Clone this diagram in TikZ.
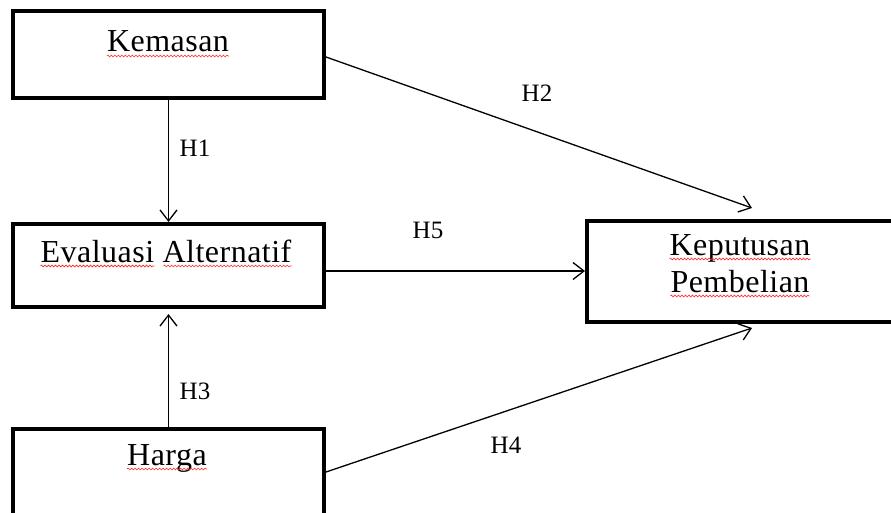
\documentclass[tikz,border=0pt]{standalone}
\usepackage{fontspec}
\setmainfont{Liberation Serif}[LetterSpace=1.5]
\usetikzlibrary{arrows.meta,decorations.pathmorphing,calc}
\begin{document}
\begin{tikzpicture}[x=1pt,y=-1pt,
  box/.style={draw,line width=4pt,inner sep=0pt,minimum width=311pt},
  lbl/.style={font=\fontsize{32}{38}\selectfont,inner sep=0pt,anchor=base},
  hyp/.style={font=\fontsize{25}{30}\selectfont,inner sep=0pt},
  conn/.style={line width=1.3pt,-{Straight Barb[length=11pt,width=17pt]}},
  spell/.style={red!85!white,line width=0.6pt,decorate,decoration={snake,amplitude=0.9pt,segment length=3.5pt}}]
\useasboundingbox (0,0) rectangle (891,513);
\clip (0,0) rectangle (891,513);
\fill[white] (0,0) rectangle (891,513);
% boxes
\node[box,minimum height=87pt] (kem) at (168.5,54.5) {};
\node[box,minimum height=83pt] (eva) at (168.5,265.5) {};
\node[box,minimum height=91pt] (har) at (168.5,474.5) {};
\node[box,minimum width=306pt,minimum height=101pt] (kep) at (740,271.5) {};
% texts
\node[lbl] (tkem) at (168,52) {Kemasan};
\node[lbl] (teva) at (166,262) {Evaluasi Alternatif};
\node[lbl] (thar) at (167,465) {Harga};
\node[lbl] (tkep1) at (740,255) {Keputusan};
\node[lbl] (tkep2) at (740,292) {Pembelian};
% spell-check underlines
\draw[spell] ([yshift=-4pt]tkem.base west) -- ([yshift=-4pt]tkem.base east);
\draw[spell] ($([yshift=-4pt]teva.base west)$) -- ($([yshift=-4pt]teva.base west)!0.454!([yshift=-4pt]teva.base east)$);
\draw[spell] ($([yshift=-4pt]teva.base west)!0.49!([yshift=-4pt]teva.base east)$) -- ([yshift=-4pt]teva.base east);
\draw[spell] ([yshift=-4pt]thar.base west) -- ([yshift=-4pt]thar.base east);
\draw[spell] ([yshift=-4pt]tkep1.base west) -- ([yshift=-4pt]tkep1.base east);
\draw[spell] ([yshift=-4pt]tkep2.base west) -- ([yshift=-4pt]tkep2.base east);
% connectors
\coordinate (h2s) at ([yshift=-2.5pt]kem.east);
\coordinate (h2e) at (752,208);
\coordinate (h5s) at ([yshift=-5.5pt]eva.east);
\coordinate (h4s) at ([yshift=2.5pt]har.east);
\coordinate (h4e) at (752,328);
\coordinate (h3e) at ([yshift=-5pt]eva.south);
\draw[conn] (kem.south) -- (eva.north);
\draw[conn] (har.north) -- (h3e);
\draw[conn] (h2s) -- (h2e);
\draw[conn] (h5s) -- (h5s -| kep.west);
\draw[conn] (h4s) -- (h4e);
% hypothesis labels
\node[hyp] (h1) at (195,148) {H1};
\node[hyp] (h2) at (537,93) {H2};
\node[hyp] (h3) at (195,391) {H3};
\node[hyp] (h4) at (506,445) {H4};
\node[hyp] (h5) at (428,230) {H5};
\end{tikzpicture}
\end{document}
